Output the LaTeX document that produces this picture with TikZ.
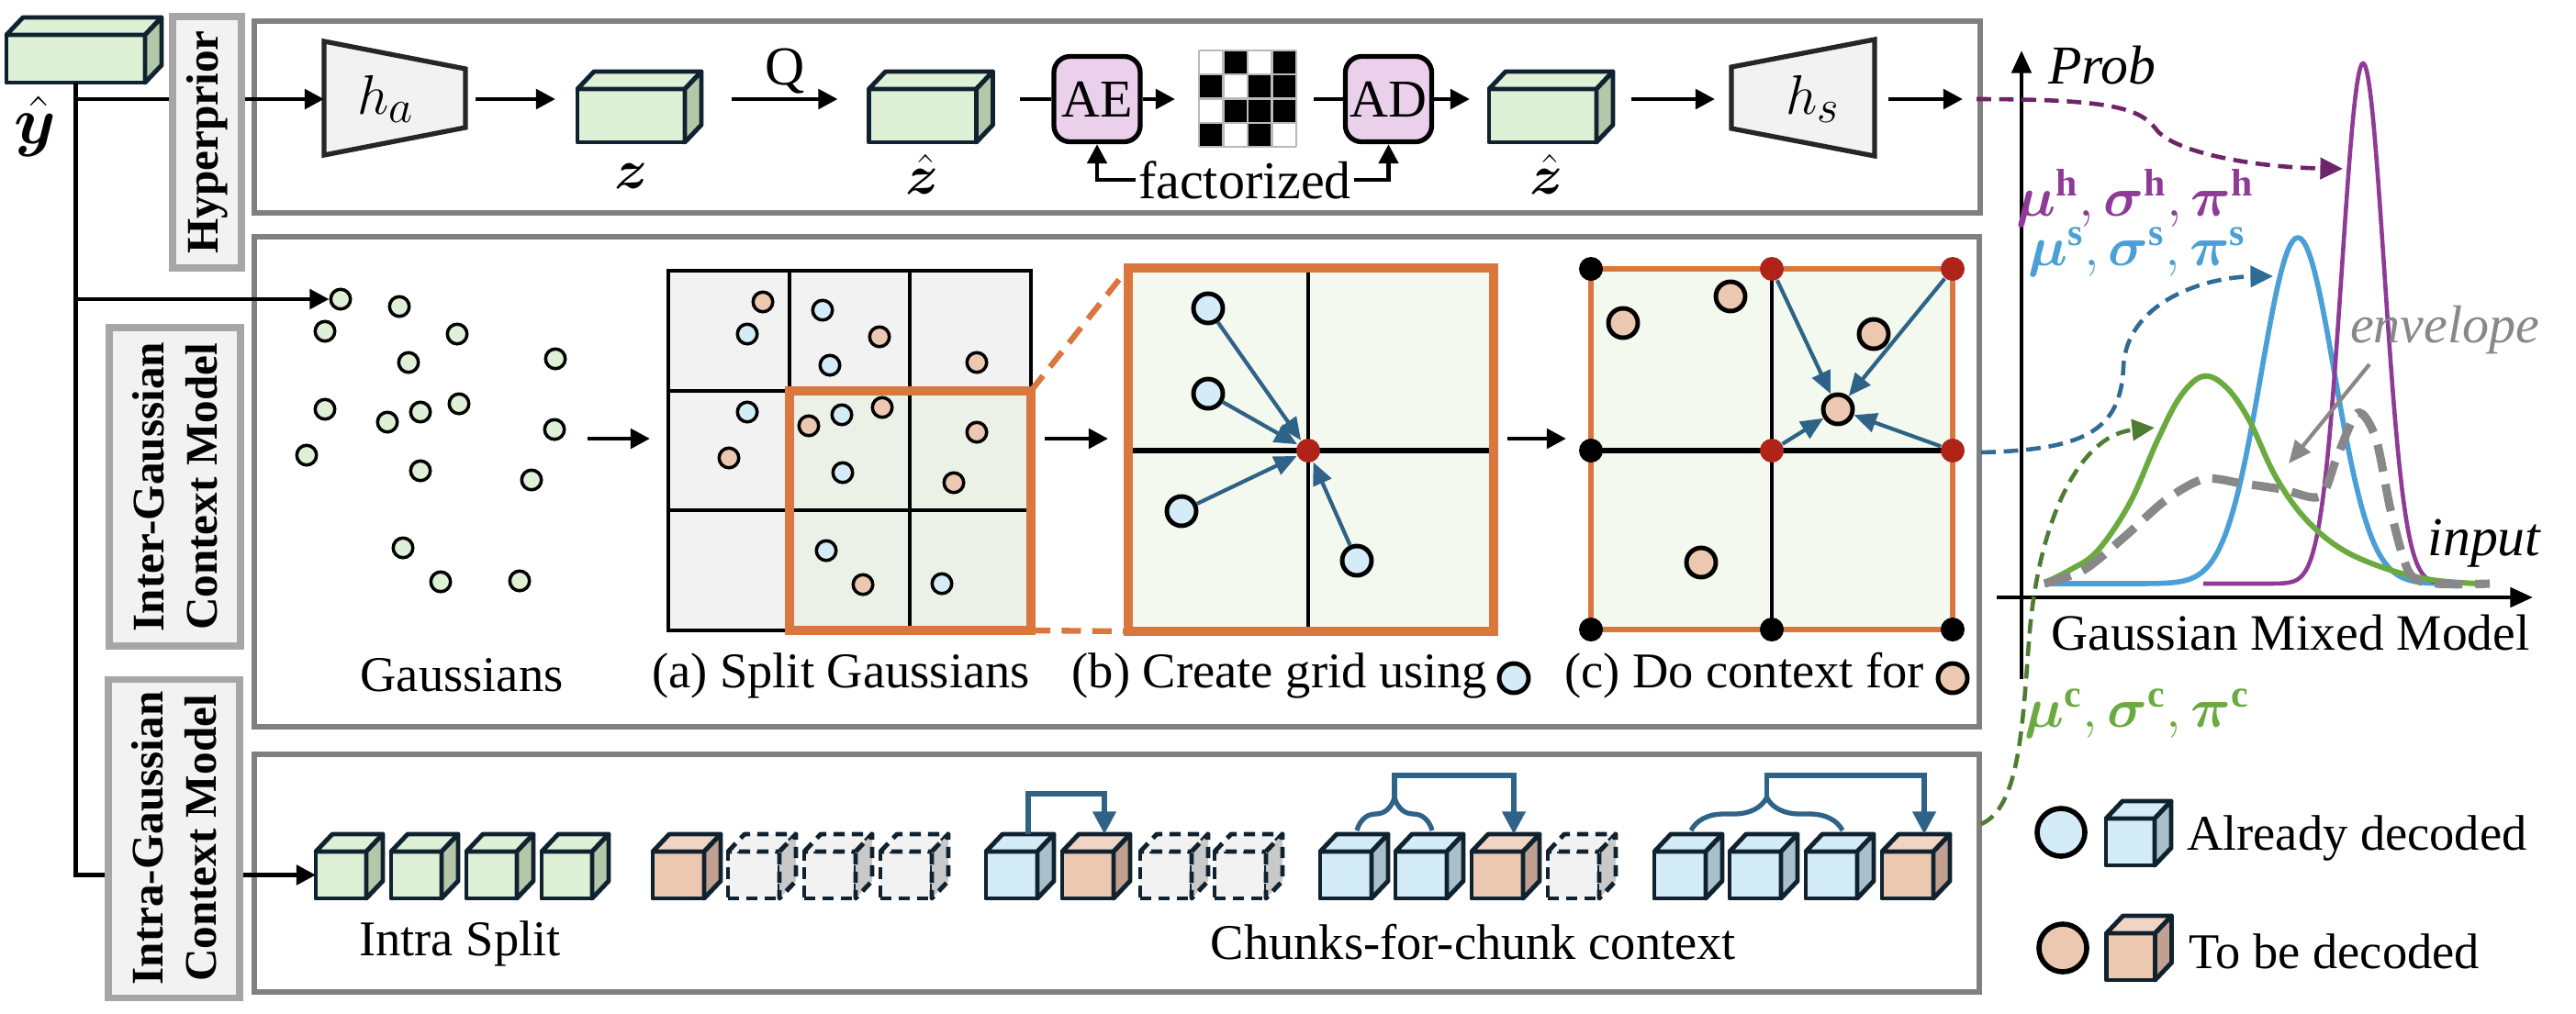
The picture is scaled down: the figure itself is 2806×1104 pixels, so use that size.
\documentclass[tikz,border=0pt]{standalone}
\usepackage{fontspec}
\setmainfont{Liberation Serif}
\usepackage{amsmath}
\usepackage{bm}
\usetikzlibrary{arrows.meta,decorations.pathreplacing,calc}

\definecolor{cline}{HTML}{10222F}
\definecolor{gfront}{HTML}{DEF0D5}
\definecolor{gside}{HTML}{B4C7A9}
\definecolor{bfront}{HTML}{D4ECF7}
\definecolor{bside}{HTML}{A9C0CB}
\definecolor{ofront}{HTML}{EDC8B0}
\definecolor{oside}{HTML}{C2A08F}
\definecolor{otop}{HTML}{F1D4C3}
\definecolor{dfront}{HTML}{F2F2F2}
\definecolor{dside}{HTML}{C9C9C9}
\definecolor{boxgray}{HTML}{808080}
\definecolor{labgray}{HTML}{A6A6A6}
\definecolor{labfill}{HTML}{F2F2F2}
\definecolor{pinkf}{HTML}{EBD0EB}
\definecolor{orng}{HTML}{D9773F}
\definecolor{stblue}{HTML}{2E6287}
\definecolor{redd}{HTML}{AF2318}
\definecolor{cpurple}{HTML}{8E3A96}
\definecolor{dpurple}{HTML}{6E2468}
\definecolor{cblue}{HTML}{4AA0D6}
\definecolor{dblue}{HTML}{2E6B95}
\definecolor{cgreen}{HTML}{6AAA3E}
\definecolor{dgreen}{HTML}{4E7D32}
\definecolor{gridfill}{HTML}{F4F9F0}
\definecolor{gridfillA}{HTML}{EBF1E6}
\definecolor{envgray}{HTML}{888888}

\newcommand{\fsz}[2]{\fontsize{#1}{#2}\selectfont}

% cube: [opts]{name}{x}{y}{w}{h}{front}{side}{top}
\newcommand{\cub}[9][]{%
  \node[cubef,fill=#7,minimum width=#5*0.1mm,minimum height=#6*0.1mm,#1] (#2) at (#3,#4) {};
  \filldraw[cubel,fill=#9,#1] (#2.north west) -- ++(18,-19) -- ++(#5,0) -- (#2.north east) -- cycle;
  \filldraw[cubel,fill=#8,#1] (#2.north east) -- ++(18,-19) -- ++(0,#6) -- (#2.south east) -- cycle;
  \path (#2.north) ++(18,-19) coordinate (#2t);
  \path (#2.east) ++(18,0) coordinate (#2r);
}

\tikzset{
  cubef/.style={draw=cline, line width=1.4pt, inner sep=0, outer sep=0, line join=round},
  cubel/.style={draw=cline, line width=1.4pt, line join=round},
  dcube/.style={dash pattern=on 3.5pt off 2.2pt},
  arr/.style={line width=1.4pt, -{Triangle[length=6pt,width=6pt]}},
  ln/.style={line width=1.4pt},
  obox/.style={draw=boxgray, line width=1.5pt, inner sep=0, outer sep=0},
  labbox/.style={draw=labgray, fill=labfill, line width=2pt, inner sep=0, outer sep=0,
    font=\fsz{14}{16.5}\bfseries, align=center},
  txt/.style={inner sep=0, outer sep=0, font=\fsz{15.5}{18}},
  mth/.style={inner sep=0, outer sep=0, font=\fsz{17}{20}},
  gdot/.style={circle, draw=black, line width=1pt, fill=gfront, minimum size=2.15mm, inner sep=0},
  bdot/.style={gdot, fill=bfront},
  odot/.style={gdot, fill=ofront},
  bcirc/.style={circle, draw=black, line width=1.4pt, fill=bfront, minimum size=3.2mm, inner sep=0},
  ocirc/.style={bcirc, fill=ofront},
  kdot/.style={circle, fill=black, minimum size=2.6mm, inner sep=0},
  rdot/.style={kdot, fill=redd},
  barr/.style={draw=stblue, line width=1.2pt, -{Triangle[length=7pt,width=6pt]}},
  barr2/.style={draw=stblue, line width=1.5pt, -{Triangle[length=7pt,width=7pt]}},
  brc/.style={draw=stblue, line width=1.5pt, decorate, decoration={brace, amplitude=3.6mm}},
  coder/.style={draw=black, line width=1.5pt, fill=pinkf, rounded corners=5pt, inner sep=0,
    minimum width=9.4mm, minimum height=9.3mm, font=\fsz{16.5}{19}},
  trap/.style={draw=black!85, fill=labfill, line width=1.5pt, line join=miter},
  dconn/.style={dash pattern=on 4.5pt off 2.5pt, line width=1.3pt},
  dtip/.style={-{Triangle[length=7pt,width=6.5pt]}},
  axarr/.style={line width=1.3pt, -{Triangle[length=7pt,width=6pt]}},
  gline/.style={draw=gray!55, line width=0.6pt},
}

\begin{document}
\begin{tikzpicture}[x=0.1mm,y=-0.1mm]
\useasboundingbox (0,0) rectangle (2806,1104);
\fill[white] (0,0) rectangle (2806,1104);

% ---------- outer boxes ----------
\node[obox, minimum width=188mm, minimum height=20.9mm] (hpbox) at (1217,127.5) {};
\node[obox, minimum width=187.9mm, minimum height=53.4mm] (inbox) at (1216.5,525) {};
\node[obox, minimum width=187.9mm, minimum height=25.9mm] (itbox) at (1216.5,951.5) {};

% ---------- hyperprior row ----------
\cub{yh}{82.5}{64}{151}{52}{gfront}{gside}{gfront}
\node[mth, font=\fsz{21}{24}] (yhl) at (38,138) {$\hat{\boldsymbol{y}}$};

\draw[trap] (353,45) -- (507,75) -- (507,139) -- (353,169) -- cycle;
\node[mth, font=\fsz{19}{22}] (ha) at (420,108) {$h_a$};
\coordinate (haL) at (353,108);
\coordinate (haR) at (507,108);

\cub{zc}{687.5}{126}{117}{58}{gfront}{gside}{gfront}
\node[mth] (zl) at (688,192) {$\boldsymbol{z}$};
\cub{zh}{1005}{126}{117}{58}{gfront}{gside}{gfront}
\node[mth] (zhl) at (1005,190) {$\hat{\boldsymbol{z}}$};
\node[txt, font=\fsz{17}{20}] (ql) at (855,78) {Q};

\node[coder] (ae) at (1195,108) {AE};
\node[inner sep=0, outer sep=0, minimum width=10.6mm, minimum height=10.5mm] (chk) at (1359,107.5) {};
\fill[white] (chk.north west) rectangle (chk.south east);
\foreach \c/\r in {2/1,4/1,1/2,3/2,4/2,2/3,3/3,4/3,1/4,3/4}
  \fill[black] ($(chk.north west)+({(\c-1)*26.5},{(\r-1)*26.25})$) rectangle ++(26.5,26.25);
\foreach \i in {0,...,4} {
  \draw[gline] ($(chk.north west)+({\i*26.5},0)$) -- ++(0,105);
  \draw[gline] ($(chk.north west)+(0,{\i*26.25})$) -- ++(106,0);
}
\node[coder] (ad) at (1512.5,108) {AD};
\cub{zh2}{1680.5}{126}{117}{58}{gfront}{gside}{gfront}
\node[mth] (zh2l) at (1685,190) {$\hat{\boldsymbol{z}}$};

\draw[trap] (1886,73) -- (2042,43) -- (2042,170) -- (1886,140) -- cycle;
\node[mth, font=\fsz{19}{22}] (hs) at (1975,108) {$h_s$};
\coordinate (hsL) at (1886,108);
\coordinate (hsR) at (2042,108);
\coordinate (hsout) at (2138,108);

\node[txt, font=\fsz{16.5}{19}, inner sep=1pt] (fac) at (1356,196) {factorized};

\draw[arr, shorten <=1.1mm, shorten >=2.4mm] (haR) -- (haR -| zc.west);
\draw[arr, shorten <=3.3mm, shorten >=3.4mm] (zcr |- haR) -- (haR -| zh.west);
\draw[ln, shorten <=2.9mm] (zhr |- haR) -- (haR -| ae.west);
\draw[arr, shorten >=2.6mm] (ae.east |- haR) -- (haR -| chk.west);
\draw[ln, shorten <=1.9mm] (chk.east |- haR) -- (haR -| ad.west);
\draw[arr, shorten >=2.1mm] (ad.east |- haR) -- (haR -| zh2.west);
\draw[arr, shorten <=2mm, shorten >=1.8mm] (zh2r |- haR) -- (hsL);
\draw[arr, shorten <=1.5mm] (hsR) -- (hsout);
\draw[arr] (fac.west) -| (ae.south);
\draw[arr] (fac.east) -| (ad.south);

% ---------- inter-Gaussian row ----------
\foreach \n/\x/\y in {1/371/326, 2/435/334, 3/354/361, 4/498/364, 5/445/395, 6/605/391,
  7/354/446, 8/422/460, 9/458/449, 10/500/440, 11/604/468, 12/334/496, 13/458/513,
  14/579/523, 15/439/597, 16/480/634, 17/566/633}
  \node[gdot] (d\n) at (\x,\y) {};

% grid (a)
\node[inner sep=0, outer sep=0, minimum width=39.5mm, minimum height=39.2mm] (ga) at (925.5,491) {};
\fill[labfill] (ga.north west) rectangle (ga.south east);
\fill[gridfillA] (860,426) rectangle (ga.south east);
\draw[line width=1.4pt] (ga.north west) rectangle (ga.south east);
\draw[line width=1.4pt] (860,295) -- (860,687) (991,295) -- (991,687) (728,426) -- (1123,426) (728,556) -- (1123,556);
\draw[orng, line width=2.6pt] (860,426) rectangle (1123,687);
\coordinate (oTR) at (1123,426);
\coordinate (oBR) at (1123,687);
\foreach \n/\x/\y in {1/831/329, 2/958/367, 3/1064/395, 4/794/499, 5/881/464, 6/961/444,
  7/1064/471, 8/1039/526, 9/940/637}
  \node[odot] (ao\n) at (\x,\y) {};
\foreach \n/\x/\y in {1/814/364, 2/896/338, 3/904/398, 4/814/449, 5/917/452, 6/918/515,
  7/900/600, 8/1026/636}
  \node[bdot] (ab\n) at (\x,\y) {};

% grid (b)
\node[fill=gridfill, inner sep=0, outer sep=0, minimum width=39.8mm, minimum height=39.6mm] (gb) at (1428,490) {};
\draw[line width=1pt] (1425,292) -- (1425,688);
\draw[line width=1.6pt] (1229,491) -- (1627,491);
\draw[orng, line width=2.6pt] (gb.north west) rectangle (gb.south east);
\draw[orng, line width=1.8pt, dash pattern=on 6pt off 3.5pt] (oTR) -- (gb.north west);
\draw[orng, line width=1.8pt, dash pattern=on 6pt off 3.5pt] (oBR) -- (gb.south west);
\node[rdot] (rb) at (1425,491) {};
\node[bcirc] (b1) at (1316,336) {};
\node[bcirc] (b2) at (1316,429) {};
\node[bcirc] (b3) at (1287,557) {};
\node[bcirc] (b4) at (1478,611) {};
\foreach \b in {b1,b2,b3,b4} \draw[barr] (\b) -- (rb);

% grid (c)
\node[fill=gridfill, inner sep=0, outer sep=0, minimum width=39.4mm, minimum height=39.3mm] (gc) at (1930,489.5) {};
\draw[line width=1pt] (1930,293) -- (1930,686);
\draw[line width=1.6pt] (1733,491) -- (2127,491);
\draw[orng, line width=1.8pt] (gc.north west) rectangle (gc.south east);
\node[kdot] (k1) at (1733,293) {};
\node[kdot] (k2) at (1733,491) {};
\node[kdot] (k3) at (1733,686) {};
\node[kdot] (k4) at (1930,686) {};
\node[kdot] (k5) at (2127,686) {};
\node[rdot] (r1) at (1930,293) {};
\node[rdot] (r2) at (2127,293) {};
\node[rdot] (r3) at (1930,491) {};
\node[rdot] (r4) at (2127,491) {};
\node[ocirc] (o1) at (1768,352) {};
\node[ocirc] (o2) at (1885,323) {};
\node[ocirc] (o3) at (2041,364) {};
\node[ocirc] (o4) at (1853,613) {};
\node[ocirc] (ot) at (2002,446) {};
\foreach \r in {r1,r2,r3,r4} \draw[barr] (\r) -- (ot);

% step arrows
\coordinate (s1) at (640,478);
\coordinate (s2) at (1138,478);
\coordinate (s3) at (1642,478);
\draw[arr, shorten >=2mm] (s1) -- (s1 -| ga.west);
\draw[arr, shorten >=2.2mm] (s2) -- (s2 -| gb.west);
\draw[arr, shorten >=2.7mm] (s3) -- (s3 -| gc.west);

% captions
\node[txt] (capg) at (503,736) {Gaussians};
\node[txt] (capa) at (916,736) {(a) Split Gaussians};
\node[txt] (capb) at (1394,736) {(b) Create grid using};
\node[bcirc] (capbc) at (1649,739) {};
\node[txt] (capc) at (1900,736) {(c) Do context for};
\node[ocirc] (capcc) at (2127,739) {};

% ---------- intra-Gaussian row ----------
\cub{i1}{371.5}{953.5}{55}{51}{gfront}{gside}{gfront}
\cub{i2}{453.5}{953.5}{55}{51}{gfront}{gside}{gfront}
\cub{i3}{535.5}{953.5}{55}{51}{gfront}{gside}{gfront}
\cub{i4}{617.5}{953.5}{55}{51}{gfront}{gside}{gfront}

\cub{c1a}{739}{953.5}{56}{51}{ofront}{oside}{otop}
\cub[dcube]{c1b}{821}{953.5}{56}{51}{dfront}{dside}{dfront}
\cub[dcube]{c1c}{904}{953.5}{56}{51}{dfront}{dside}{dfront}
\cub[dcube]{c1d}{987}{953.5}{56}{51}{dfront}{dside}{dfront}

\cub{c2a}{1102}{953.5}{56}{51}{bfront}{bside}{bfront}
\cub{c2b}{1185}{953.5}{56}{51}{ofront}{oside}{otop}
\cub[dcube]{c2c}{1270}{953.5}{56}{51}{dfront}{dside}{dfront}
\cub[dcube]{c2d}{1351}{953.5}{56}{51}{dfront}{dside}{dfront}

\cub{c3a}{1466}{953.5}{56}{51}{bfront}{bside}{bfront}
\cub{c3b}{1548}{953.5}{56}{51}{bfront}{bside}{bfront}
\cub{c3c}{1631}{953.5}{56}{51}{ofront}{oside}{otop}
\cub[dcube]{c3d}{1714}{953.5}{56}{51}{dfront}{dside}{dfront}

\cub{c4a}{1830}{953.5}{56}{51}{bfront}{bside}{bfront}
\cub{c4b}{1912}{953.5}{56}{51}{bfront}{bside}{bfront}
\cub{c4c}{1995}{953.5}{56}{51}{bfront}{bside}{bfront}
\cub{c4d}{2078}{953.5}{56}{51}{ofront}{oside}{otop}

\draw[barr2] (c2at) -- ++(0,-44) -| (c2bt);
\draw[brc] ($(c3at)+(-6,-4)$) -- ($(c3bt)+(-6,-4)$);
\coordinate (br3) at ($($(c3at)!0.5!(c3bt)$)+(-6,-40)$);
\draw[barr2] (br3) -- ++(0,-24) -| (c3ct);
\draw[brc] ($(c4at)+(-6,-4)$) -- ($(c4ct)+(-6,-4)$);
\coordinate (br4) at ($($(c4at)!0.5!(c4ct)$)+(-6,-40)$);
\draw[barr2] (br4) -- ++(0,-24) -| (c4dt);

\node[txt] (iss) at (501,1028) {Intra Split};
\node[txt] (cfc) at (1605,1027) {Chunks-for-chunk context};

% ---------- spine ----------
\coordinate (sp1) at (82.5,108);
\coordinate (sp2) at (82.5,326);
\draw[arr] (yh.south) |- (i1.west);
\draw[arr] (sp1) -- (haL);
\draw[arr] (sp2) -- (d1);

% ---------- label boxes ----------
\node[labbox, rotate=90, minimum width=27.4mm, minimum height=7.5mm] (lhp) at (225.5,155) {Hyperprior};
\node[labbox, rotate=90, minimum width=34.7mm, minimum height=14.3mm] (lin) at (190.5,530.5) {Inter-Gaussian\\Context Model};
\node[labbox, rotate=90, minimum width=34.7mm, minimum height=14.3mm] (lit) at (189.5,913.5) {Intra-Gaussian\\Context Model};

% ---------- GMM chart ----------
\coordinate (yax0) at (2202,740);
\coordinate (yax1) at (2202,55);
\coordinate (xax0) at (2175,651);
\coordinate (xax1) at (2759,651);
\draw[axarr] (yax0) -- (yax1);
\draw[axarr] (xax0) -- (xax1);

\draw[cblue, line width=1.6pt, line join=round] plot[domain=2227:2680, samples=160]
  (\x,{636-377*exp(-min(((\x-2503)/40)*((\x-2503)/40)/2,20))});
\draw[cpurple, line width=1.3pt, line join=round] plot[domain=2400:2680, samples=160]
  (\x,{636-567*exp(-min(((\x-2574)/23)*((\x-2574)/23)/2,20))});
\draw[cgreen, line width=1.7pt] plot[smooth, tension=0.6] coordinates {(2227,635) (2255,621) (2285,600) (2320,548) (2350,480) (2375,432) (2400,410) (2425,422) (2450,458) (2478,518) (2510,564) (2550,598) (2600,620) (2650,632) (2700,636)};
\draw[envgray, line width=2.6pt, dash pattern=on 8.5pt off 4pt] plot[smooth, tension=0.5] coordinates {(2227,636) (2270,621) (2313,586) (2359,545) (2401,522) (2443,527) (2485,533) (2527,541) (2545,500) (2568,450) (2588,478) (2605,560) (2625,625) (2655,636) (2712,636)};

\node[txt, font=\fsz{17}{20}\itshape] (prob) at (2290,71) {Prob};
\node[txt, font=\fsz{17}{20}\itshape] (inp) at (2706,592) {input};
\node[txt, font=\fsz{16.5}{19}\itshape, text=envgray] (env) at (2663,360) {envelope};
\coordinate (ea0) at (2581,397);
\coordinate (ea1) at (2493,505);
\draw[envgray, line width=1.2pt, -{Triangle[length=7pt,width=6pt]}] (ea0) -- (ea1);
\node[txt, font=\fsz{15.8}{19}] (gmm) at (2495,689) {Gaussian Mixed Model};

\node[mth, text=cpurple] (lh) at (2326,216) {$\boldsymbol{\mu}^{\mathbf{h}},\boldsymbol{\sigma}^{\mathbf{h}},\boldsymbol{\pi}^{\mathbf{h}}$};
\node[mth, text=cblue] (ls) at (2328,275) {$\boldsymbol{\mu}^{\mathbf{s}},\boldsymbol{\sigma}^{\mathbf{s}},\boldsymbol{\pi}^{\mathbf{s}}$};
\node[mth, text=cgreen] (lc) at (2328,778) {$\boldsymbol{\mu}^{\mathbf{c}},\boldsymbol{\sigma}^{\mathbf{c}},\boldsymbol{\pi}^{\mathbf{c}}$};

% dashed connectors
\coordinate (pst) at (2153,108);
\coordinate (ptip) at (2552,184);
\draw[dconn, dpurple, dtip] (pst) .. controls (2300,108) and (2330,118) .. (2348,140) .. controls (2365,165) and (2450,182) .. (ptip);
\coordinate (bst) at (2158,493);
\coordinate (btip) at (2476,301);
\draw[dconn, dblue, dtip] (bst) .. controls (2270,490) and (2310,470) .. (2313,400) .. controls (2316,330) and (2400,302) .. (btip);
\coordinate (gst) at (2158,898);
\coordinate (gtip) at (2347,466);
\draw[dconn, dgreen, dtip] (gst) .. controls (2200,880) and (2203,790) .. (2210,700) .. controls (2218,580) and (2260,475) .. (gtip);

% ---------- legend ----------
\node[bcirc, minimum size=5.2mm, line width=1.6pt] (lgb) at (2245,907) {};
\cub{lgbc}{2320.5}{917.5}{53}{51}{bfront}{bside}{bfront}
\node[txt, anchor=west] (lgbt) at (2382,913) {Already decoded};
\node[ocirc, minimum size=5.2mm, line width=1.6pt] (lgo) at (2247,1033) {};
\cub{lgoc}{2321}{1042.5}{53}{51}{ofront}{oside}{otop}
\node[txt, anchor=west] (lgot) at (2384,1037) {To be decoded};

\end{tikzpicture}
\end{document}
